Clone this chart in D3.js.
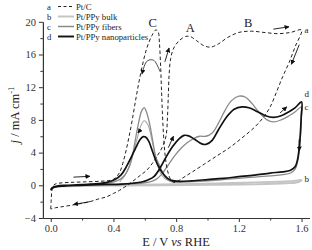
<!DOCTYPE html>
<html>
<head>
<meta charset="utf-8">
<script src="https://cdn.jsdelivr.net/npm/d3@7"></script>
<style>
  body { margin: 0; background: #fff; }
  svg { display: block; font-family: "Liberation Serif", "DejaVu Serif", serif; }
</style>
</head>
<body>
<div class="chart"></div>
<script>
// size setup
var width = 312;
var height = 250;

// data (E in V, j in mA cm-1), listed in scan order
var ptcE = [0.0, 0.003, 0.008, 0.02, 0.05, 0.12, 0.22, 0.32, 0.38, 0.41, 0.44, 0.46, 0.48, 0.50, 0.52, 0.545, 0.575, 0.61, 0.645, 0.67,
            0.685, 0.693, 0.70, 0.706, 0.712, 0.72, 0.73, 0.745, 0.765, 0.785,
            0.81, 0.85, 0.9, 0.98, 1.06, 1.14, 1.22, 1.3, 1.36, 1.4, 1.44, 1.48, 1.52, 1.56, 1.6,
            1.53, 1.45, 1.36, 1.28, 1.2, 1.13, 1.07, 1.02, 0.975, 0.93, 0.89, 0.86, 0.82, 0.785, 0.765, 0.755, 0.75, 0.745, 0.735,
            0.71, 0.676, 0.645, 0.61, 0.57, 0.52, 0.48, 0.44, 0.4, 0.357, 0.3, 0.25, 0.2, 0.144, 0.08, 0.03, 0.01, 0.0];
var ptcJ = [-2.9, -1.8, -0.6, 0.05, 0.25, 0.35, 0.42, 0.5, 0.6, 0.85, 1.6, 2.7, 4.2, 6.0, 8.0, 10.8, 13.8, 16.6, 18.3, 19.0,
            18.8, 17.5, 15.0, 12.0, 9.0, 6.0, 3.6, 1.8, 0.7, 0.35,
            0.5, 1.0, 1.6, 2.6, 3.6, 4.6, 5.8, 7.1, 8.4, 9.6, 11.4, 13.3, 15.0, 17.0, 19.0,
            18.7, 18.55, 18.7, 18.85, 18.7, 18.1, 17.3, 16.9, 17.1, 17.7, 18.2, 18.2, 17.7, 16.8, 15.5, 13.5, 11.0, 8.5, 6.0,
            4.6, 3.5, 2.6, 1.8, 1.2, 0.45, -0.1, -0.6, -1.0, -1.4, -1.7, -2.0, -2.2, -2.4, -2.6, -2.75, -2.85, -2.9];

var bulkE = [0.0, 0.01, 0.04, 0.1, 0.3, 0.5, 0.7, 0.9, 1.1, 1.3, 1.45, 1.55, 1.6,
             1.58, 1.5, 1.3, 1.0, 0.7, 0.4, 0.1, 0.02, 0.0];
var bulkJ = [-0.5, -0.3, -0.15, -0.08, -0.02, 0.05, 0.12, 0.18, 0.25, 0.35, 0.45, 0.55, 0.65,
             0.4, 0.25, 0.12, 0.05, 0.0, -0.05, -0.12, -0.25, -0.5];

var fibersE = [0.0, 0.01, 0.03, 0.08, 0.15, 0.25, 0.35, 0.45, 0.55, 0.62, 0.67, 0.71, 0.75, 0.79, 0.83, 0.87, 0.91, 0.95, 0.99,
               1.03, 1.07, 1.11, 1.15, 1.2, 1.24, 1.28, 1.33, 1.38, 1.42, 1.47, 1.52, 1.56, 1.6,
               1.598, 1.593, 1.585, 1.575, 1.56, 1.53, 1.48, 1.4, 1.3, 1.2, 1.1, 1.0, 0.9, 0.82, 0.77, 0.74, 0.715, 0.69, 0.67,
               0.65, 0.63, 0.61, 0.597, 0.58, 0.56, 0.54, 0.52, 0.5, 0.47, 0.43, 0.38, 0.3, 0.2, 0.1, 0.04, 0.01, 0.0];
var fibersJ = [-0.55, -0.35, -0.22, -0.12, -0.05, 0.0, 0.05, 0.1, 0.2, 0.35, 0.7, 1.4, 2.5, 3.6, 4.5, 5.2, 5.7, 6.0, 6.0,
               6.4, 7.6, 9.1, 10.3, 10.9, 10.8, 10.1, 8.9, 8.0, 7.75, 8.0, 8.5, 9.0, 9.6,
               8.0, 6.0, 4.2, 2.9, 2.0, 1.5, 1.3, 1.15, 1.0, 0.85, 0.7, 0.55, 0.45, 0.4, 0.45, 0.8, 1.5, 2.6, 3.5,
               5.5, 7.6, 9.0, 9.5, 9.1, 7.6, 5.6, 3.5, 2.2, 1.2, 0.6, 0.3, 0.15, 0.05, -0.05, -0.15, -0.3, -0.55];
// second, lower reverse peak of the fibers trace
var fibers2E = [0.44, 0.47, 0.5, 0.53, 0.555, 0.575, 0.597, 0.62, 0.64, 0.66, 0.68, 0.70, 0.73, 0.77];
var fibers2J = [0.45, 1.1, 2.3, 4.2, 6.0, 7.3, 7.9, 7.4, 6.0, 4.2, 2.6, 1.5, 0.8, 0.45];

var nanoE = [0.0, 0.01, 0.03, 0.08, 0.15, 0.25, 0.35, 0.45, 0.52, 0.58, 0.62, 0.66, 0.70, 0.74, 0.78, 0.82, 0.85, 0.88, 0.92, 0.96, 0.99,
             1.03, 1.07, 1.12, 1.17, 1.22, 1.27, 1.32, 1.37, 1.42, 1.47, 1.52, 1.56, 1.6,
             1.598, 1.593, 1.585, 1.575, 1.56, 1.53, 1.48, 1.4, 1.3, 1.2, 1.1, 1.0, 0.9, 0.82, 0.77, 0.74, 0.71, 0.68, 0.65,
             0.625, 0.605, 0.59, 0.57, 0.54, 0.51, 0.48, 0.45, 0.41, 0.36, 0.3, 0.2, 0.1, 0.04, 0.01, 0.0];
var nanoJ = [-0.6, -0.35, -0.2, -0.1, -0.02, 0.05, 0.1, 0.15, 0.25, 0.4, 0.65, 1.1, 2.2, 3.6, 4.8, 5.7, 6.1, 6.05, 5.6, 5.1, 5.0,
             5.5, 6.8, 8.3, 9.3, 9.6, 9.45, 9.0, 8.5, 8.3, 8.5, 9.0, 9.5, 10.2,
             8.5, 6.5, 4.6, 3.2, 2.3, 1.85, 1.65, 1.5, 1.25, 1.05, 0.85, 0.7, 0.55, 0.48, 0.6, 0.95, 1.6, 2.6, 4.1,
             5.4, 5.9, 5.95, 5.6, 4.5, 3.3, 2.2, 1.3, 0.7, 0.35, 0.2, 0.1, 0.0, -0.1, -0.3, -0.6];

var xTicks = [0.0, 0.4, 0.8, 1.2, 1.6];
var yTicks = [-4, 0, 4, 8, 12, 16, 20];

// scan direction arrows [E1, j1, E2, j2]
var arrows = [
  [0.145, 1.0, 0.25, 1.1],
  [0.25, -2.0, 0.145, -2.35],
  [0.728, 15.1, 0.755, 16.8],
  [1.42, 19.1, 1.52, 19.4],
  [1.585, 17.2, 1.535, 14.8],
  [1.463, 8.85, 1.506, 9.6],
  [1.584, 5.6, 1.586, 4.2],
  [0.75, 4.6, 0.783, 6.0],
  [0.572, 6.8, 0.556, 6.4]
];
var curvedE = [0.697, 0.66, 0.61, 0.582];
var curvedJ = [13.9, 15.25, 15.1, 13.6];

var peakLabels = ["C", "A", "B"];
var peakE = [0.65, 0.89, 1.26];
var peakJ = [19.4, 18.8, 19.4];

var endLabels = ["a", "d", "c", "b"];
var endJ = [19.0, 11.2, 9.6, 0.8];

var seriesNames = ["Pt/C", "Pt/PPy bulk", "Pt/PPy fibers", "Pt/PPy nanoparticles"];
var seriesKeys = ["a", "b", "c", "d"];
var seriesColors = ["#222", "#c4c4c4", "#8a8a8a", "#111"];
var seriesWidths = [1.0, 1.8, 1.3, 1.7];

const xScale = d3.scaleLinear().domain([-0.05, 1.65]).range([42.9, 309.4]);
const yScale = d3.scaleLinear().domain([-4, 20]).range([218, 21.8]);

const svg = d3.select(".chart")
              .append("svg")
              .attr("width", width)
              .attr("height", height);

svg.append("defs").append("marker")
   .attr("id", "head")
   .attr("viewBox", "0 0 10 10")
   .attr("refX", 9).attr("refY", 5)
   .attr("markerWidth", 5).attr("markerHeight", 5)
   .attr("markerUnits", "userSpaceOnUse")
   .attr("orient", "auto")
   .append("path")
   .attr("d", "M0,0 L10,5 L0,10 z")
   .attr("fill", "#111");

const line = d3.line()
               .x(d => xScale(d[0]))
               .y(d => yScale(d[1]))
               .curve(d3.curveCatmullRom.alpha(0.5));

function pts(es, js) { return es.map((e, i) => [e, js[i]]); }

// curves: bulk first, then fibers, Pt/C, nanoparticles on top
svg.append("path").attr("d", line(pts(bulkE, bulkJ)))
   .attr("fill", "none").attr("stroke", seriesColors[1]).attr("stroke-width", seriesWidths[1]);
svg.append("path").attr("d", line(pts(fibers2E, fibers2J)))
   .attr("fill", "none").attr("stroke", "#a8a8a8").attr("stroke-width", 1.1);
svg.append("path").attr("d", line(pts(fibersE, fibersJ)))
   .attr("fill", "none").attr("stroke", seriesColors[2]).attr("stroke-width", seriesWidths[2]);
svg.append("path").attr("d", line(pts(ptcE, ptcJ)))
   .attr("fill", "none").attr("stroke", seriesColors[0]).attr("stroke-width", seriesWidths[0])
   .attr("stroke-dasharray", "3.5,2.5");
svg.append("path").attr("d", line(pts(nanoE, nanoJ)))
   .attr("fill", "none").attr("stroke", seriesColors[3]).attr("stroke-width", seriesWidths[3]);

// arrows
svg.selectAll("line.arrow")
   .data(arrows)
   .enter()
   .append("line")
   .attr("class", "arrow")
   .attr("x1", d => xScale(d[0])).attr("y1", d => yScale(d[1]))
   .attr("x2", d => xScale(d[2])).attr("y2", d => yScale(d[3]))
   .attr("stroke", "#111").attr("stroke-width", 0.9)
   .attr("marker-end", "url(#head)");
svg.append("path")
   .attr("d", d3.line().x(d => xScale(d[0])).y(d => yScale(d[1])).curve(d3.curveCardinal)(pts(curvedE, curvedJ)))
   .attr("fill", "none").attr("stroke", "#333").attr("stroke-width", 0.9)
   .attr("marker-end", "url(#head)");

// axes
const xAxis = d3.axisBottom(xScale).tickValues(xTicks).tickFormat(d3.format(".1f")).tickSize(4).tickSizeOuter(0);
const yAxis = d3.axisLeft(yScale).tickValues(yTicks).tickFormat(d3.format("d")).tickSize(4).tickSizeOuter(0);
const xMinor = d3.axisBottom(xScale).tickValues(d3.range(0.2, 1.6, 0.4)).tickFormat("").tickSize(2.5).tickSizeOuter(0);
const yMinor = d3.axisLeft(yScale).tickValues(d3.range(-2, 20, 4)).tickFormat("").tickSize(2.5).tickSizeOuter(0);

[[xAxis, "x"], [xMinor, "x"], [yAxis, "y"], [yMinor, "y"]].forEach(a => {
  var g = svg.append("g")
     .attr("transform", a[1] === "x" ? "translate(0," + 218 + ")" : "translate(" + 42.9 + ",0)")
     .call(a[0]);
  g.selectAll("path, line").attr("stroke", "#333").attr("stroke-width", 1);
  g.selectAll("text").attr("font-family", "Liberation Serif").attr("font-size", 10.5).attr("fill", "#333");
});

// axis labels
svg.append("text")
   .attr("x", 176).attr("y", 246)
   .attr("text-anchor", "middle")
   .attr("font-size", 12.5).attr("fill", "#222")
   .call(t => {
     t.append("tspan").text("E / V ");
     t.append("tspan").attr("font-style", "italic").text("vs");
     t.append("tspan").text(" RHE");
   });
svg.append("text")
   .attr("transform", "translate(19,115) rotate(-90)")
   .attr("text-anchor", "middle")
   .attr("font-size", 12.5).attr("fill", "#222")
   .call(t => {
     t.append("tspan").attr("font-style", "italic").text("j");
     t.append("tspan").text(" / mA cm");
     t.append("tspan").attr("dy", -5).attr("font-size", 8.5).text("-1");
   });

// peak letters and curve letters
svg.selectAll("text.peak")
   .data(peakLabels)
   .enter()
   .append("text")
   .attr("class", "peak")
   .attr("x", (d, i) => xScale(peakE[i]))
   .attr("y", (d, i) => yScale(peakJ[i]))
   .attr("text-anchor", "middle")
   .attr("font-size", 12.5).attr("fill", "#222")
   .text(d => d);
svg.selectAll("text.end")
   .data(endLabels)
   .enter()
   .append("text")
   .attr("class", "end")
   .attr("x", xScale(1.6) + 3)
   .attr("y", (d, i) => yScale(endJ[i]) + 3)
   .attr("font-size", 9).attr("fill", "#222")
   .text(d => d);

// legend
var legend = svg.append("g");
seriesNames.forEach((name, i) => {
  var y = 6.5 + i * 10;
  legend.append("text").attr("x", 47).attr("y", y + 3).attr("font-size", 8.7).attr("fill", "#222").text(seriesKeys[i]);
  legend.append("line")
        .attr("x1", 58).attr("x2", 74).attr("y1", y).attr("y2", y)
        .attr("stroke", seriesColors[i]).attr("stroke-width", seriesWidths[i] + 0.2)
        .attr("stroke-dasharray", i === 0 ? "3,2.5" : null);
  legend.append("text").attr("x", 76).attr("y", y + 3).attr("font-size", 8.7).attr("fill", "#222").text(name);
});
</script>
</body>
</html>
